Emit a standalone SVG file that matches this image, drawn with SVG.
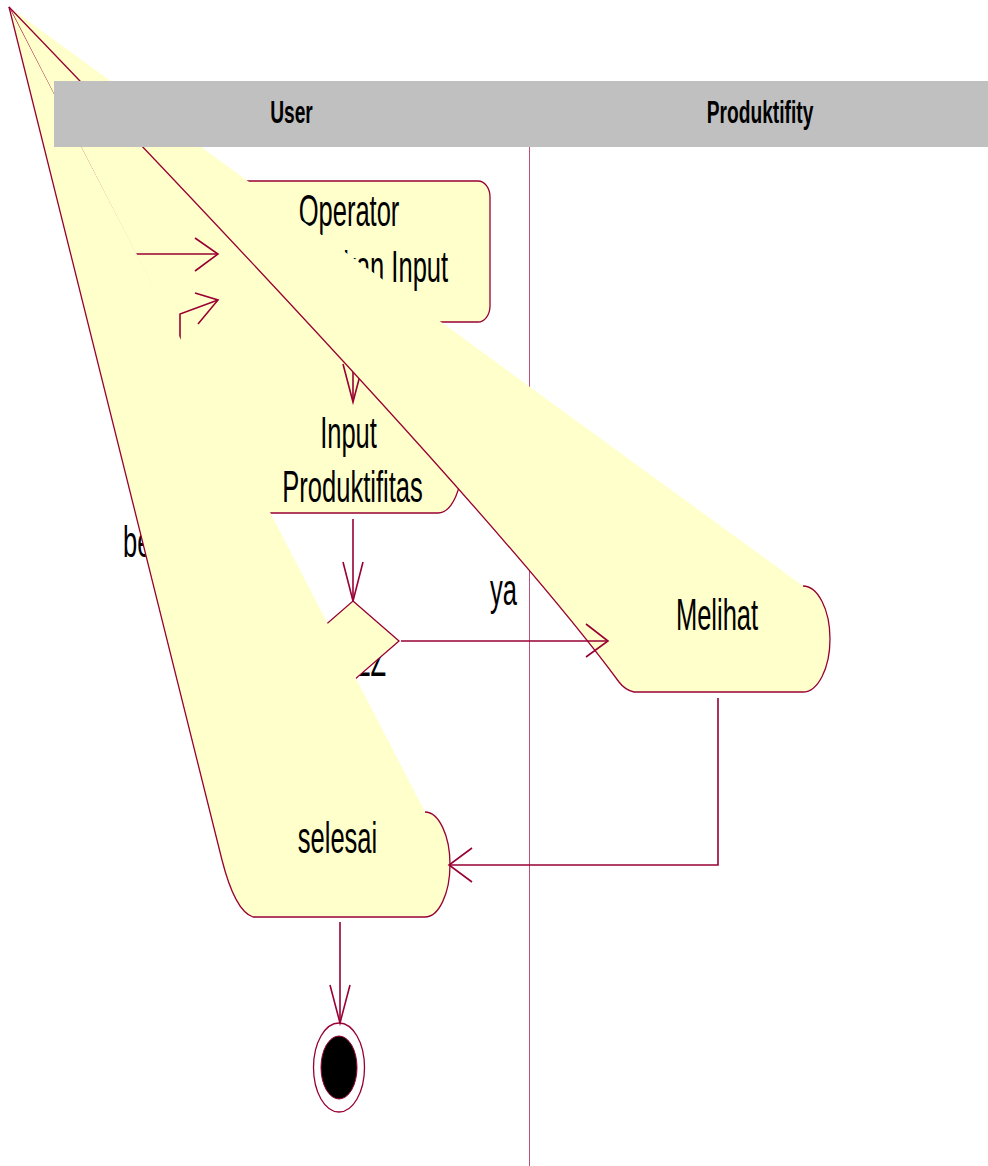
<svg xmlns="http://www.w3.org/2000/svg" width="988" height="1166" viewBox="0 0 988 1166">
  <style>
    .node { fill: #FFFFCC; stroke: none; }
    .edge { fill: none; stroke: #990033; stroke-width: 1.3; }
    .conn { fill: none; stroke: #990033; stroke-width: 1.6; }
    .lbl { font-family: "Liberation Sans", Arial, sans-serif; font-size: 44px; fill: #000000; }
    .hdr { font-family: "Liberation Sans", Arial, sans-serif; font-size: 32px; font-weight: bold; fill: #000000; }
  </style>

  <!-- lane divider -->
  <line id="lane-divider" x1="529.5" y1="147" x2="529.5" y2="1166" stroke="#C0507A" stroke-width="1"/>

  <!-- Operator Melakukan Input -->
  <g id="node-operator">
    <rect x="218" y="181" width="272" height="141" rx="12" ry="16" fill="#FFFFCC" stroke="#990033" stroke-width="1.3"/>
    <text class="lbl" text-anchor="middle" transform="translate(349,226) scale(0.58,1)">Operator</text>
    <text class="lbl" text-anchor="middle" transform="translate(354.5,282) scale(0.58,1)">Melakukan Input</text>
  </g>

  <!-- Input Produktifitas -->
  <g id="node-input">
    <path class="node" d="M9,7 L438,402 A25,55.5 0 0 1 438,513 L268,513 L9,7 Z"/>
    <path class="edge" d="M438,402 A25,55.5 0 0 1 438,513 L268,513 L9,7"/>
    <text class="lbl" text-anchor="middle" transform="translate(348.5,448) scale(0.58,1)">Input</text>
    <text class="lbl" text-anchor="middle" transform="translate(352.5,502) scale(0.58,1)">Produktifitas</text>
  </g>

  <!-- connectors lying beneath the later states -->
  <g id="connectors-back">
    <!-- start -> Operator -->
    <line class="conn" x1="110" y1="254" x2="218" y2="254"/>
    <polyline class="conn" points="195,238 218,254 195,271"/>
    <!-- Operator -> Input Produktifitas -->
    <line class="conn" x1="353" y1="327" x2="353" y2="402"/>
    <polyline class="conn" points="343,364 353,402 363,364"/>
    <!-- decision -> Operator (belum) -->
    <polyline class="conn" points="307,641 180,641 180,314 218,300"/>
    <polyline class="conn" points="195,293 218,300 198,324"/>
    <text class="lbl" transform="translate(123,557) scale(0.58,1)">belum</text>
    <text class="lbl" text-anchor="end" transform="translate(386,676) scale(0.58,1)">ZZ</text>
  </g>

  <!-- decision -->
  <g id="node-decision">
    <polygon points="353,601 399,641 353,681 307,641" fill="#FFFFCC" stroke="#990033" stroke-width="1.3"/>
  </g>

  <!-- selesai -->
  <g id="node-selesai">
    <path class="node" d="M9,7 L425,812 A25,52.5 0 0 1 425,917 L253,917 Q235,911 222,860 L9,7 Z"/>
    <path class="edge" d="M425,812 A25,52.5 0 0 1 425,917 L253,917 Q235,911 222,860 L9,7"/>
    <text class="lbl" text-anchor="middle" transform="translate(337.5,853) scale(0.58,1)">selesai</text>
  </g>

  <!-- Melihat -->
  <g id="node-melihat">
    <path class="node" d="M9,7 L803,586 A27,53 0 0 1 803,692 L634,692 Q625,690 619,682 Q489,506 9,7 Z"/>
    <path class="edge" d="M803,586 A27,53 0 0 1 803,692 L634,692 Q625,690 619,682 Q489,506 9,7"/>
    <text class="lbl" text-anchor="middle" transform="translate(717,630) scale(0.58,1)">Melihat</text>
  </g>

  <!-- final state -->
  <g id="node-final">
    <ellipse cx="339" cy="1067.5" rx="25.5" ry="44.5" fill="#FFFFFF" stroke="#990033" stroke-width="1.3"/>
    <ellipse cx="339" cy="1067.5" rx="18" ry="31.5" fill="#000000" stroke="#990033" stroke-width="1"/>
  </g>

  <!-- connectors -->
  <g id="connectors">
    <!-- Input Produktifitas -> decision -->
    <line class="conn" x1="353" y1="519" x2="353" y2="601"/>
    <polyline class="conn" points="343,562 353,601 363,562"/>
    <!-- decision -> Melihat (ya) -->
    <line class="conn" x1="401" y1="641" x2="608" y2="641"/>
    <polyline class="conn" points="586,624 608,641 586,657"/>
    <text class="lbl" transform="translate(490,605) scale(0.58,1)">ya</text>
    <!-- Melihat -> selesai -->
    <polyline class="conn" points="718,698 718,865 450,865"/>
    <polyline class="conn" points="472,848 449,865 472,882"/>
    <!-- selesai -> final -->
    <line class="conn" x1="340" y1="922" x2="340" y2="1023"/>
    <polyline class="conn" points="330,985 340,1023 350,985"/>
  </g>

  <!-- swimlane header -->
  <g id="lanes">
    <rect x="54" y="81" width="934" height="66" fill="#C0C0C0"/>
    <text class="hdr" text-anchor="middle" transform="translate(291.5,123) scale(0.6,1)">User</text>
    <text class="hdr" text-anchor="middle" transform="translate(760,123) scale(0.6,1)">Produktifity</text>
  </g>
</svg>
